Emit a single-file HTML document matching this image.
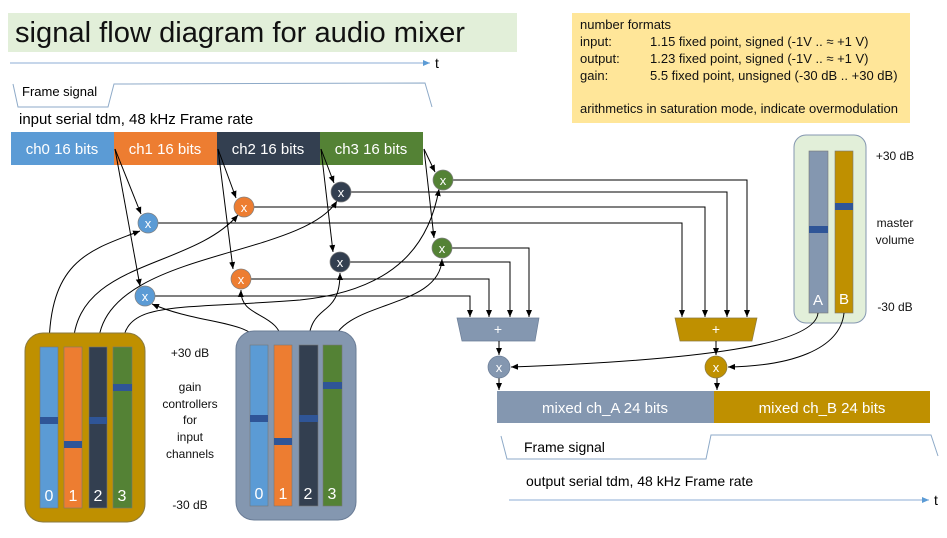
<!DOCTYPE html>
<html><head><meta charset="utf-8"><style>
body{margin:0;background:#fff;}
svg{display:block;font-family:"Liberation Sans",sans-serif;}
</style></head><body>
<svg width="947" height="538" viewBox="0 0 947 538" xmlns="http://www.w3.org/2000/svg">
<defs>
<marker id="a" markerWidth="8" markerHeight="8" refX="7" refY="4" orient="auto" markerUnits="userSpaceOnUse"><path d="M0,1 L7,4 L0,7 z" fill="#000"/></marker>
<marker id="b" markerWidth="8" markerHeight="8" refX="7" refY="4" orient="auto" markerUnits="userSpaceOnUse"><path d="M0,1 L7,4 L0,7 z" fill="#5b9bd5"/></marker>
</defs>
<!-- title -->
<rect x="8" y="13" width="509" height="39" fill="#e2efd9"/>
<text x="15" y="42" font-size="29" fill="#111" textLength="450" lengthAdjust="spacingAndGlyphs">signal flow diagram for audio mixer</text>
<line x1="10" y1="63" x2="430" y2="63" stroke="#8eaed6" stroke-width="1" marker-end="url(#b)"/>
<text x="435" y="68" font-size="14">t</text>
<!-- number formats -->
<rect x="572" y="13" width="338" height="110" fill="#ffe699"/>
<g font-size="13" fill="#111">
<text x="580" y="29">number formats</text>
<text x="580" y="46">input:</text><text x="650" y="46">1.15 fixed point, signed (-1V .. ≈ +1 V)</text>
<text x="580" y="63">output:</text><text x="650" y="63">1.23 fixed point, signed (-1V .. ≈ +1 V)</text>
<text x="580" y="80">gain:</text><text x="650" y="80">5.5 fixed point, unsigned (-30 dB .. +30 dB)</text>
<text x="580" y="113">arithmetics in saturation mode, indicate overmodulation</text>
</g>
<!-- input frame -->
<path d="M13,84 L18,107 L108,107 L114,84 L425,83 L432,107" fill="none" stroke="#8eaac8" stroke-width="1"/>
<text x="22" y="96" font-size="13">Frame signal</text>
<text x="19" y="124" font-size="15">input serial tdm, 48 kHz Frame rate</text>
<rect x="11" y="132" width="103" height="33" fill="#5b9bd5"/>
<rect x="114" y="132" width="103" height="33" fill="#ed7d31"/>
<rect x="217" y="132" width="103" height="33" fill="#333f50"/>
<rect x="320" y="132" width="103" height="33" fill="#548235"/>
<g font-size="15" fill="#fff" text-anchor="middle">
<text x="62" y="154">ch0 16 bits</text><text x="165" y="154">ch1 16 bits</text><text x="268" y="154">ch2 16 bits</text><text x="371" y="154">ch3 16 bits</text>
</g>
<g stroke="#000" stroke-width="1" fill="none" marker-end="url(#a)">
<line x1="115" y1="149" x2="141" y2="214"/>
<line x1="115" y1="149" x2="140" y2="286"/>
<line x1="218" y1="149" x2="236" y2="198"/>
<line x1="218" y1="149" x2="233" y2="269"/>
<line x1="321" y1="149" x2="334" y2="183"/>
<line x1="321" y1="149" x2="333" y2="252"/>
<line x1="424" y1="149" x2="435" y2="172"/>
<line x1="424" y1="149" x2="434" y2="238"/>
</g>
<g stroke="#000" stroke-width="1" fill="none" marker-end="url(#a)">
<polyline points="453,180 747,180 747,317"/>
<polyline points="351,192 727,192 727,317"/>
<polyline points="254,207 705,207 705,317"/>
<polyline points="158,223 682,223 682,317"/>
<polyline points="452,248 529,248 529,317"/>
<polyline points="350,262 510,262 510,317"/>
<polyline points="251,279 489,279 489,317"/>
<polyline points="155,296 470,296 470,317"/>
</g>
<g stroke="#000" stroke-width="1" fill="none" marker-end="url(#a)">
<path d="M49,347 C50,260 90,250 140,231"/>
<path d="M73,347 C75,260 190,270 238,215"/>
<path d="M98,347 C100,250 300,260 337,201"/>
<path d="M122,347 C125,300 170,310 300,300 C400,290 430,240 439,189"/>
<path d="M259,345 C255,320 200,325 152,304"/>
<path d="M283,345 C280,310 240,320 241,290"/>
<path d="M308,345 C310,300 340,320 340,273"/>
<path d="M332,345 C340,300 440,310 442,259"/>
</g>
<g font-size="13" fill="#fff" text-anchor="middle" stroke="#7f7f7f" stroke-width="0.7">
<circle cx="148" cy="223" r="10" fill="#5b9bd5"/><circle cx="145" cy="296" r="10" fill="#5b9bd5"/>
<circle cx="244" cy="207" r="10" fill="#ed7d31"/><circle cx="241" cy="279" r="10" fill="#ed7d31"/>
<circle cx="341" cy="192" r="10" fill="#333f50"/><circle cx="340" cy="262" r="10" fill="#333f50"/>
<circle cx="443" cy="180" r="10" fill="#548235"/><circle cx="442" cy="248" r="10" fill="#548235"/>
</g>
<g font-size="13" fill="#fff" text-anchor="middle">
<text x="148" y="228">x</text><text x="145" y="301">x</text><text x="244" y="212">x</text><text x="241" y="284">x</text>
<text x="341" y="197">x</text><text x="340" y="267">x</text><text x="443" y="185">x</text><text x="442" y="253">x</text>
</g>
<rect x="25" y="333" width="120" height="189" rx="18" fill="#bf9000" stroke="#8a7a40"/>
<rect x="40" y="347" width="18" height="161" fill="#5b9bd5" stroke="#777" stroke-width="0.6"/>
<rect x="64" y="347" width="18" height="161" fill="#ed7d31" stroke="#777" stroke-width="0.6"/>
<rect x="89" y="347" width="18" height="161" fill="#333f50" stroke="#777" stroke-width="0.6"/>
<rect x="113" y="347" width="19" height="161" fill="#548235" stroke="#777" stroke-width="0.6"/>
<rect x="40" y="417" width="18" height="7" fill="#2f5597"/><rect x="64" y="441" width="18" height="7" fill="#2f5597"/>
<rect x="89" y="417" width="18" height="7" fill="#2f5597"/><rect x="113" y="384" width="19" height="7" fill="#2f5597"/>
<rect x="236" y="331" width="120" height="189" rx="18" fill="#8497b0" stroke="#6a7c96"/>
<rect x="250" y="345" width="18" height="161" fill="#5b9bd5" stroke="#777" stroke-width="0.6"/>
<rect x="274" y="345" width="18" height="161" fill="#ed7d31" stroke="#777" stroke-width="0.6"/>
<rect x="299" y="345" width="19" height="161" fill="#333f50" stroke="#777" stroke-width="0.6"/>
<rect x="323" y="345" width="19" height="161" fill="#548235" stroke="#777" stroke-width="0.6"/>
<rect x="250" y="415" width="18" height="7" fill="#2f5597"/><rect x="274" y="438" width="18" height="7" fill="#2f5597"/>
<rect x="299" y="415" width="19" height="7" fill="#2f5597"/><rect x="323" y="382" width="19" height="7" fill="#2f5597"/>
<g font-size="16" fill="#fff" text-anchor="middle">
<text x="49" y="501">0</text><text x="73" y="501">1</text><text x="98" y="501">2</text><text x="122" y="501">3</text>
<text x="259" y="499">0</text><text x="283" y="499">1</text><text x="308" y="499">2</text><text x="332" y="499">3</text>
</g>
<g font-size="12" fill="#111" text-anchor="middle">
<text x="190" y="357">+30 dB</text>
<text x="190" y="391">gain</text><text x="190" y="408">controllers</text><text x="190" y="424">for</text><text x="190" y="441">input</text><text x="190" y="458">channels</text>
<text x="190" y="509">-30 dB</text>
</g>
<rect x="794" y="135" width="72" height="188" rx="12" fill="#e2efd9" stroke="#8497b0"/>
<rect x="809" y="151" width="19" height="162" fill="#8497b0" stroke="#777" stroke-width="0.6"/>
<rect x="835" y="151" width="18" height="162" fill="#bf9000" stroke="#777" stroke-width="0.6"/>
<rect x="809" y="226" width="19" height="7" fill="#2f5597"/><rect x="835" y="203" width="18" height="7" fill="#2f5597"/>
<g font-size="15" fill="#fff" text-anchor="middle"><text x="818" y="305">A</text><text x="844" y="304">B</text></g>
<g font-size="12" fill="#111" text-anchor="middle">
<text x="895" y="160">+30 dB</text><text x="895" y="227">master</text><text x="895" y="244">volume</text><text x="895" y="311">-30 dB</text>
</g>
<polygon points="457,318 539,318 535,341 462,341" fill="#8497b0" stroke="#6a7c96" stroke-width="0.7"/>
<polygon points="675,318 757,318 752,341 680,341" fill="#bf9000" stroke="#8a7a40" stroke-width="0.7"/>
<g font-size="14" fill="#fff" text-anchor="middle"><text x="498" y="334">+</text><text x="716" y="334">+</text></g>
<g stroke="#000" stroke-width="1" fill="none" marker-end="url(#a)">
<line x1="499" y1="341" x2="499" y2="355"/>
<line x1="716" y1="341" x2="716" y2="355"/>
<line x1="499" y1="378" x2="499" y2="390"/>
<line x1="717" y1="378" x2="717" y2="390"/>
<path d="M818,313 C815,345 700,360 511,367"/>
<path d="M844,313 C840,350 790,366 728,367"/>
</g>
<circle cx="499" cy="367" r="11" fill="#8497b0" stroke="#6a7c96" stroke-width="0.7"/>
<circle cx="716" cy="367" r="11" fill="#bf9000" stroke="#8a7a40" stroke-width="0.7"/>
<g font-size="13" fill="#fff" text-anchor="middle"><text x="499" y="372">x</text><text x="716" y="372">x</text></g>
<rect x="497" y="391" width="217" height="32" fill="#8497b0"/>
<rect x="714" y="391" width="216" height="32" fill="#bf9000"/>
<g font-size="15" fill="#fff" text-anchor="middle"><text x="605" y="413">mixed ch_A 24 bits</text><text x="822" y="413">mixed ch_B 24 bits</text></g>
<path d="M501,436 L507,459 L706,459 L711,435 L931,435 L938,456" fill="none" stroke="#8eaac8" stroke-width="1"/>
<text x="524" y="452" font-size="14">Frame signal</text>
<text x="526" y="486" font-size="14">output serial tdm, 48 kHz Frame rate</text>
<line x1="509" y1="500" x2="929" y2="500" stroke="#8eaed6" stroke-width="1" marker-end="url(#b)"/>
<text x="934" y="505" font-size="14">t</text>
</svg>
</body></html>
